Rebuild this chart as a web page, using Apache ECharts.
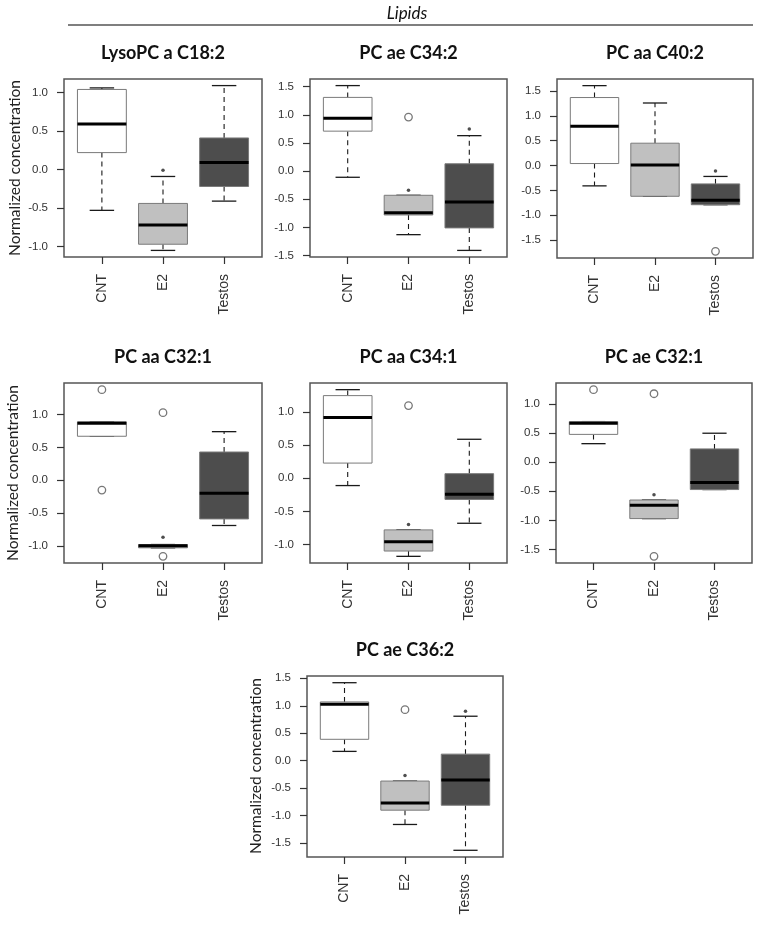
<!DOCTYPE html>
<html>
<head>
<meta charset="utf-8">
<script src="https://cdn.jsdelivr.net/npm/echarts@6/dist/echarts.min.js"></script>
<style>html,body{margin:0;padding:0;background:#fff;}#c{width:760px;height:926px;}</style>
</head>
<body>
<div id="c"></div>
<script>
// ---------- data ----------
const groups = ['CNT', 'E2', 'Testos'];
const titles = ['LysoPC a C18:2', 'PC ae C34:2', 'PC aa C40:2', 'PC aa C32:1', 'PC aa C34:1', 'PC ae C32:1', 'PC ae C36:2'];
const yName = 'Normalized concentration';
const header = 'Lipids';

// box stats per group: [lower whisker, Q1, median, Q3, upper whisker]
const lysoC18_2_box = [[-0.53, 0.22, 0.59, 1.04, 1.06], [-1.05, -0.97, -0.72, -0.44, -0.09], [-0.41, -0.22, 0.09, 0.41, 1.09]];
const lysoC18_2_out = [];
const lysoC18_2_dot = [['E2', -0.01]];

const pcAeC34_2_box = [[-0.11, 0.71, 0.94, 1.31, 1.52], [-1.13, -0.78, -0.74, -0.43, -0.43], [-1.41, -1.01, -0.55, 0.13, 0.63]];
const pcAeC34_2_out = [['E2', 0.96]];
const pcAeC34_2_dot = [['E2', -0.34], ['Testos', 0.75]];

const pcAaC40_2_box = [[-0.41, 0.04, 0.79, 1.37, 1.61], [-0.62, -0.62, 0.01, 0.45, 1.26], [-0.79, -0.79, -0.70, -0.37, -0.22]];
const pcAaC40_2_out = [['Testos', -1.73]];
const pcAaC40_2_dot = [['Testos', -0.11]];

const pcAaC32_1_box = [[0.67, 0.67, 0.87, 0.89, 0.89], [-1.03, -1.03, -1.00, -0.98, -0.98], [-0.69, -0.59, -0.20, 0.43, 0.74]];
const pcAaC32_1_out = [['CNT', 1.38], ['CNT', -0.15], ['E2', 1.03], ['E2', -1.16]];
const pcAaC32_1_dot = [['E2', -0.87]];

const pcAaC34_1_box = [[-0.11, 0.23, 0.92, 1.25, 1.34], [-1.18, -1.10, -0.96, -0.78, -0.78], [-0.68, -0.32, -0.24, 0.07, 0.59]];
const pcAaC34_1_out = [['E2', 1.10]];
const pcAaC34_1_dot = [['E2', -0.70]];

const pcAeC32_1_box = [[0.32, 0.48, 0.67, 0.70, 0.70], [-0.97, -0.97, -0.74, -0.65, -0.65], [-0.47, -0.47, -0.35, 0.23, 0.50]];
const pcAeC32_1_out = [['CNT', 1.25], ['E2', 1.18], ['E2', -1.62]];
const pcAeC32_1_dot = [['E2', -0.56]];

const pcAeC36_2_box = [[0.17, 0.39, 1.03, 1.07, 1.42], [-1.16, -0.90, -0.77, -0.37, -0.37], [-1.63, -0.81, -0.35, 0.12, 0.81]];
const pcAeC36_2_out = [['E2', 0.93]];
const pcAeC36_2_dot = [['E2', -0.27], ['Testos', 0.90]];

// y tick labels
const ticksA = [-1, -0.5, 0, 0.5, 1];
const ticksB = [-1.5, -1, -0.5, 0, 0.5, 1, 1.5];
const ticksC = [-1.5, -1, -0.5, 0, 0.5, 1];

// ---------- layout / styles ----------
const panels = [
  { box: lysoC18_2_box, out: lysoC18_2_out, dot: lysoC18_2_dot, ticks: ticksA, g: [64, 79, 198, 178], yname: [15, 168] },
  { box: pcAeC34_2_box, out: pcAeC34_2_out, dot: pcAeC34_2_dot, ticks: ticksB, g: [310, 79, 197, 178] },
  { box: pcAaC40_2_box, out: pcAaC40_2_out, dot: pcAaC40_2_dot, ticks: ticksB, g: [557, 79, 196, 179] },
  { box: pcAaC32_1_box, out: pcAaC32_1_out, dot: pcAaC32_1_dot, ticks: ticksA, g: [64, 383, 198, 180], yname: [13, 473] },
  { box: pcAaC34_1_box, out: pcAaC34_1_out, dot: pcAaC34_1_dot, ticks: ticksA, g: [310, 383, 197, 180] },
  { box: pcAeC32_1_box, out: pcAeC32_1_out, dot: pcAeC32_1_dot, ticks: ticksC, g: [556, 383, 196, 180] },
  { box: pcAeC36_2_box, out: pcAeC36_2_out, dot: pcAeC36_2_dot, ticks: ticksB, g: [307, 676, 196, 181], yname: [256, 766] }
];
const fills = ['#ffffff', '#c0c0c0', '#4d4d4d'];
const labelFont = 'Liberation Sans, Arial, sans-serif';

function renderBox(params, api) {
  const x = api.value(0);
  const low = api.value(1), q1 = api.value(2), med = api.value(3), q3 = api.value(4), high = api.value(5);
  const w = api.size([0.8, 0])[0];
  const hw = w / 2, sw = w / 4;
  const pLow = api.coord([x, low]), pQ1 = api.coord([x, q1]), pMed = api.coord([x, med]),
        pQ3 = api.coord([x, q3]), pHigh = api.coord([x, high]);
  const cx = pMed[0];
  const dash = { stroke: '#1a1a1a', lineWidth: 1.1, lineDash: [5, 4] };
  const cap = { stroke: '#1a1a1a', lineWidth: 1.3 };
  return {
    type: 'group',
    children: [
      { type: 'line', shape: { x1: cx, y1: pQ3[1], x2: cx, y2: pHigh[1] }, style: dash },
      { type: 'line', shape: { x1: cx, y1: pQ1[1], x2: cx, y2: pLow[1] }, style: dash },
      { type: 'line', shape: { x1: cx - sw, y1: pHigh[1], x2: cx + sw, y2: pHigh[1] }, style: cap },
      { type: 'line', shape: { x1: cx - sw, y1: pLow[1], x2: cx + sw, y2: pLow[1] }, style: cap },
      { type: 'rect', shape: { x: cx - hw, y: pQ3[1], width: w, height: pQ1[1] - pQ3[1] },
        style: { fill: fills[x - 1], stroke: '#7a7a7a', lineWidth: 1 } },
      { type: 'line', shape: { x1: cx - hw, y1: pMed[1], x2: cx + hw, y2: pMed[1] }, style: { stroke: '#000', lineWidth: 3 } }
    ]
  };
}

const grid = [], xAxis = [], yAxis = [], series = [], graphic = [];
const gi = (name) => groups.indexOf(name) + 1;

panels.forEach((p, i) => {
  const vals = [];
  p.box.forEach(b => vals.push(...b));
  p.out.forEach(o => vals.push(o[1]));
  p.dot.forEach(o => vals.push(o[1]));
  const lo = Math.min(...vals), hi = Math.max(...vals);
  const pad = (hi - lo) * 0.04;
  grid.push({ left: p.g[0], top: p.g[1], width: p.g[2], height: p.g[3], show: true,
    borderColor: '#555', borderWidth: 1.5, backgroundColor: 'transparent' });
  xAxis.push({
    type: 'value', gridIndex: i, min: 0.38, max: 3.62, position: 'bottom',
    axisLine: { show: false, onZero: false }, splitLine: { show: false },
    axisTick: { show: true, customValues: [1, 2, 3], length: 7, lineStyle: { color: '#333', width: 1.2 } },
    axisLabel: { customValues: [1, 2, 3], formatter: v => groups[Math.round(v) - 1], rotate: 90,
      margin: 17, fontSize: 14, color: '#333', fontFamily: labelFont }
  });
  yAxis.push({
    type: 'value', gridIndex: i, min: lo - pad, max: hi + pad, position: 'left',
    axisLine: { show: false, onZero: false }, splitLine: { show: false },
    axisTick: { show: true, customValues: p.ticks, length: 7, lineStyle: { color: '#333', width: 1.2 } },
    axisLabel: { customValues: p.ticks, formatter: v => v.toFixed(1), margin: 16, fontSize: 11.5,
      color: '#333', fontFamily: labelFont }
  });
  series.push({
    type: 'custom', xAxisIndex: i, yAxisIndex: i, silent: true,
    data: p.box.map((b, k) => [k + 1, ...b]),
    encode: { x: 0, y: [1, 2, 3, 4, 5] },
    renderItem: renderBox
  });
  series.push({
    type: 'scatter', xAxisIndex: i, yAxisIndex: i, silent: true, symbol: 'circle', symbolSize: 7.5,
    data: p.out.map(o => [gi(o[0]), o[1]]),
    itemStyle: { color: 'rgba(255,255,255,0)', borderColor: '#555', borderWidth: 1.3 }, z: 5
  });
  series.push({
    type: 'scatter', xAxisIndex: i, yAxisIndex: i, silent: true, symbol: 'circle', symbolSize: 3.5,
    data: p.dot.map(o => [gi(o[0]), o[1]]),
    itemStyle: { color: '#222' }, z: 5
  });
  // panel title
  graphic.push({ type: 'text', x: p.g[0] + p.g[2] / 2, y: p.g[1] - 26,
    style: { text: titles[i], align: 'center', verticalAlign: 'middle', font: 'bold 18px Lato, sans-serif', fill: '#111' } });
  if (p.yname) {
    graphic.push({ type: 'text', x: p.yname[0], y: p.yname[1], rotation: Math.PI / 2,
      style: { text: yName, align: 'center', verticalAlign: 'middle', font: '15.5px Lato, sans-serif', fill: '#222' } });
  }
});

graphic.push({ type: 'text', x: 407, y: 14,
  style: { text: header, align: 'center', verticalAlign: 'middle', font: 'italic 17px Lato, sans-serif', fill: '#111' } });
graphic.push({ type: 'line', shape: { x1: 68, y1: 25, x2: 753, y2: 25 }, style: { stroke: '#555', lineWidth: 1.5 } });

const chart = echarts.init(document.getElementById('c'), null, { renderer: 'canvas' });
chart.setOption({ animation: false, backgroundColor: '#fff', grid, xAxis, yAxis, series, graphic });
</script>
</body>
</html>
